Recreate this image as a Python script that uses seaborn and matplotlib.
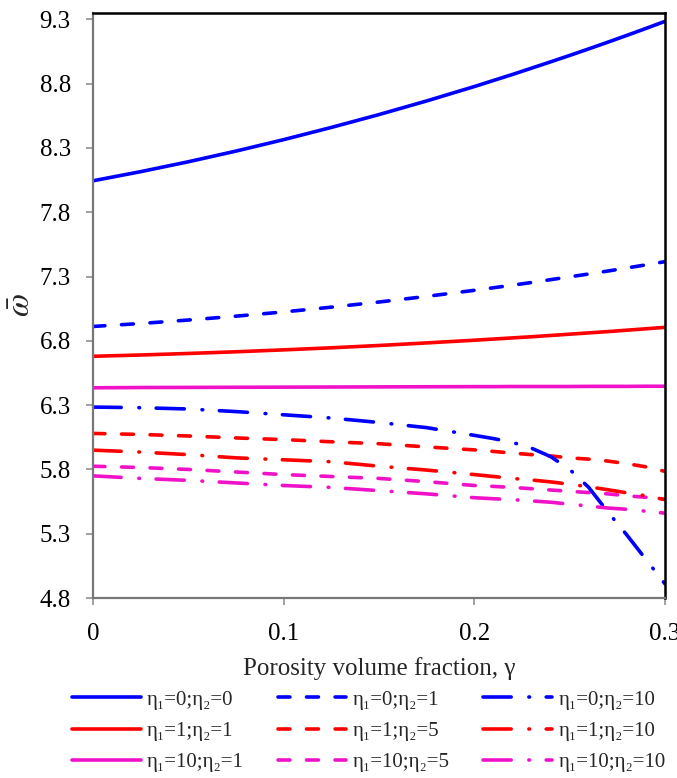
import matplotlib
matplotlib.use("Agg")
import matplotlib.pyplot as plt
from matplotlib.lines import Line2D
import numpy as np
import pandas as pd
import seaborn as sns

# Porosity volume fraction
gamma = [0.0, 0.025, 0.05, 0.075, 0.1, 0.125, 0.15, 0.175, 0.2, 0.21, 0.22,
         0.23, 0.24, 0.25, 0.26, 0.27, 0.28, 0.29, 0.3]

# Dimensionless frequency for each (eta1, eta2) pair
w_0_0 = [8.045, 8.116, 8.193, 8.276, 8.365, 8.460, 8.560, 8.666, 8.778, 8.825,
         8.872, 8.921, 8.970, 9.020, 9.071, 9.123, 9.176, 9.230, 9.285]
w_0_1 = [6.912, 6.935, 6.962, 6.992, 7.025, 7.062, 7.102, 7.146, 7.193, 7.213,
         7.233, 7.254, 7.276, 7.298, 7.320, 7.343, 7.367, 7.391, 7.416]
w_0_10 = [6.285, 6.280, 6.270, 6.250, 6.225, 6.200, 6.165, 6.125, 6.065, 6.040,
          6.010, 5.965, 5.900, 5.800, 5.660, 5.470, 5.290, 5.100, 4.910]
w_1_1 = [6.680, 6.690, 6.702, 6.715, 6.730, 6.746, 6.764, 6.784, 6.805, 6.814,
         6.823, 6.832, 6.842, 6.852, 6.862, 6.872, 6.883, 6.894, 6.905]
w_1_5 = [6.080, 6.072, 6.060, 6.045, 6.032, 6.015, 6.000, 5.975, 5.952, 5.940,
         5.927, 5.915, 5.905, 5.890, 5.880, 5.865, 5.845, 5.820, 5.785]
w_1_10 = [5.950, 5.935, 5.915, 5.890, 5.875, 5.860, 5.825, 5.795, 5.760, 5.745,
          5.730, 5.718, 5.703, 5.685, 5.665, 5.642, 5.618, 5.595, 5.565]
w_10_1 = [6.435, 6.437, 6.438, 6.439, 6.440, 6.441, 6.442, 6.443, 6.444, 6.444,
          6.445, 6.445, 6.445, 6.445, 6.446, 6.446, 6.446, 6.447, 6.447]
w_10_5 = [5.825, 5.815, 5.800, 5.780, 5.760, 5.745, 5.730, 5.705, 5.675, 5.668,
          5.660, 5.650, 5.640, 5.630, 5.620, 5.610, 5.595, 5.583, 5.568]
w_10_10 = [5.750, 5.730, 5.715, 5.695, 5.675, 5.660, 5.635, 5.610, 5.580, 5.572,
           5.565, 5.555, 5.545, 5.530, 5.515, 5.500, 5.490, 5.475, 5.460]

labels = ["η₁=0;η₂=0", "η₁=1;η₂=1", "η₁=10;η₂=1",
          "η₁=0;η₂=1", "η₁=1;η₂=5", "η₁=10;η₂=5",
          "η₁=0;η₂=10", "η₁=1;η₂=10", "η₁=10;η₂=10"]
series = [w_0_0, w_1_1, w_10_1, w_0_1, w_1_5, w_10_5, w_0_10, w_1_10, w_10_10]
colors = ["#0000FF", "#FF0000", "#F012C8"] * 3
kinds = ["solid"] * 3 + ["dash"] * 3 + ["dashdot"] * 3

yticks = [4.8, 5.3, 5.8, 6.3, 6.8, 7.3, 7.8, 8.3, 8.8, 9.3]
xticks = [0, 0.1, 0.2, 0.3]
xticklabels = ["0", "0.1", "0.2", "0.3"]

df = pd.DataFrame({
    "gamma": np.tile(gamma, len(series)),
    "omega": np.concatenate(series),
    "case": np.repeat(labels, len(gamma)),
})

sns.set_theme(style="white")
plt.rcParams["font.family"] = ["Liberation Serif", "DejaVu Serif"]
plt.rcParams["mathtext.fontset"] = "stix"

dash_patterns = {
    "solid": None,
    "dash": (3.3, 4.6),
    "dashdot": (7.8, 4.9, 0.2, 4.6),
}

fig = plt.figure(figsize=(6.77, 7.78), dpi=100)
ax = fig.add_axes([93 / 677, 1 - 598 / 778, (665 - 93) / 677, (598 - 13) / 778])

lw = 2.6
handles = []
for lab, col, kind in zip(labels, colors, kinds):
    sub = df[df["case"] == lab]
    sns.lineplot(data=sub, x="gamma", y="omega", ax=ax, color=col,
                 linewidth=lw, legend=False, sort=False)
    line = ax.lines[-1]
    line.set_solid_capstyle("round")
    line.set_dash_capstyle("round")
    if dash_patterns[kind] is not None:
        line.set_dashes(dash_patterns[kind])
    h = Line2D([], [], color=col, linewidth=lw, solid_capstyle="round",
               dash_capstyle="round")
    if dash_patterns[kind] is not None:
        h.set_dashes(dash_patterns[kind])
    handles.append(h)

ax.set_xlim(0, 0.3)
ax.set_ylim(4.8, 9.35)
ax.set_xticks(xticks)
ax.set_xticklabels(xticklabels)
ax.set_yticks(yticks)
ax.set_yticklabels([f"{v:.1f}" for v in yticks])

for side in ["left", "bottom"]:
    ax.spines[side].set_color("#777777")
    ax.spines[side].set_linewidth(1.6)
for side in ["top", "right"]:
    ax.spines[side].set_color("black")
    ax.spines[side].set_linewidth(1.8)

ax.tick_params(axis="both", which="major", direction="out", length=5,
               width=1.1, color="#888888", labelsize=18, labelcolor="black",
               bottom=True, left=True, top=False, right=False)
ax.tick_params(axis="y", pad=11)
ax.tick_params(axis="x", pad=13)
ax.grid(False)

ax.set_xlabel("Porosity volume fraction, γ", fontsize=18, labelpad=9)
ax.set_ylabel(r"$\bar{\omega}$", fontsize=24, labelpad=2)

fig.legend(handles, labels, ncol=3, loc="upper left",
           bbox_to_anchor=(72 / 677, 1 - 690 / 778), frameon=False,
           fontsize=15, handlelength=3.3, handletextpad=0.3,
           columnspacing=1.62, labelspacing=0.57, borderpad=0,
           borderaxespad=0)

fig.savefig("out.png", dpi=100)
